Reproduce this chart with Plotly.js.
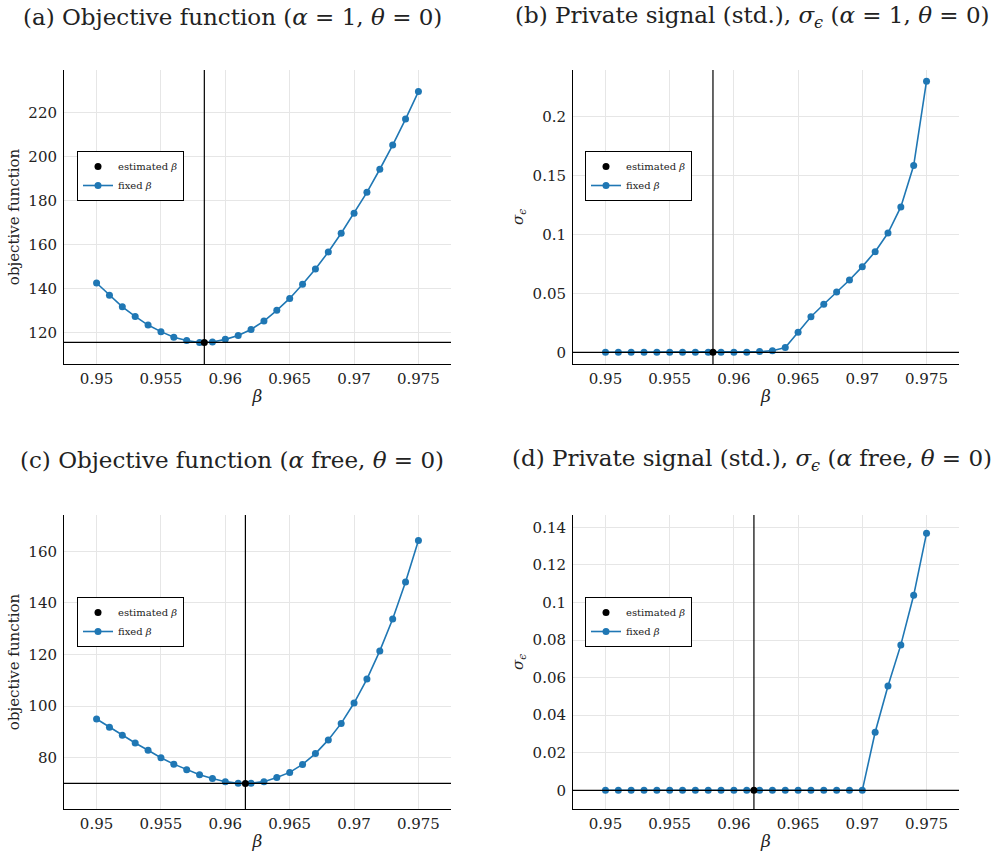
<!DOCTYPE html>
<html>
<head>
<meta charset="utf-8">
<script src="https://cdn.plot.ly/plotly-3.0.1.min.js"></script>
<style>html,body{margin:0;padding:0;background:#fff;}#chart{width:1001px;height:862px;}</style>
</head>
<body>
<div id="chart"></div>
<script>
// ---- data ----
const beta = [0.950,0.951,0.952,0.953,0.954,0.955,0.956,0.957,0.958,0.959,0.960,0.961,0.962,0.963,0.964,0.965,0.966,0.967,0.968,0.969,0.970,0.971,0.972,0.973,0.974,0.975];

const objA = [142.6,137.0,131.8,127.4,123.5,120.5,118.0,116.5,115.6,115.8,117.0,118.8,121.5,125.3,130.2,135.6,142.0,149.0,156.7,165.2,174.3,183.8,194.3,205.3,217.1,229.6];
const sigA = [0,0,0,0,0,0,0,0,0,0,0,0,0.0006,0.0014,0.004,0.017,0.0302,0.0407,0.0511,0.0613,0.0726,0.0853,0.1011,0.1232,0.1582,0.2297];
const estBetaA = 0.95837, estObjA = 115.6, estSigA = 0;

const objC = [95.0,91.8,88.7,85.7,82.9,80.0,77.5,75.3,73.4,71.9,70.7,70.1,70.1,70.7,72.3,74.3,77.4,81.6,86.9,93.3,101.2,110.5,121.4,133.8,148.1,164.2];
const sigC = [0,0,0,0,0,0,0,0,0,0,0,0,0,0,0,0,0,0,0,0,0,0.0309,0.0555,0.0774,0.1038,0.1368];
const estBetaC = 0.96156, estObjC = 70.0, estSigC = 0;

const titles = [
  "(a) Objective function (<i>α</i> = 1, <i>θ</i> = 0)",
  "(b) Private signal (std.), <i>σ<sub>ϵ</sub></i> (<i>α</i> = 1, <i>θ</i> = 0)",
  "(c) Objective function (<i>α</i> free, <i>θ</i> = 0)",
  "(d) Private signal (std.), <i>σ<sub>ϵ</sub></i> (<i>α</i> free, <i>θ</i> = 0)"
];
const yTitles = ["objective function", "<i>σ<sub>ϵ</sub></i>", "objective function", "<i>σ<sub>ϵ</sub></i>"];
const xTitle = "<i>β</i>";
const xTicks = [0.95,0.955,0.96,0.965,0.97,0.975];
const xTickText = ["0.95","0.955","0.96","0.965","0.97","0.975"];

// ---- styling ----
const FONT = "DejaVu Serif";
const BLUE = "#1f77b4";
const TXT = "#222";
const W = 1001, H = 862;

const panels = [
  {xs:"x", ys:"y", y: objA, eb: estBetaA, ev: estObjA, leg:"legend",
   xd:[64,451], yd:[70,364], yr:[105.8,239.4], ydt:[120,140,160,180,200,220], ytt:null},
  {xs:"x2", ys:"y2", y: sigA, eb: estBetaA, ev: estSigA, leg:"legend2",
   xd:[573,959], yd:[70,364], yr:[-0.0099,0.2392], ydt:[0,0.05,0.1,0.15,0.2], ytt:["0","0.05","0.1","0.15","0.2"]},
  {xs:"x3", ys:"y3", y: objC, eb: estBetaC, ev: estObjC, leg:"legend3",
   xd:[64,451], yd:[515,809], yr:[60.1,174.1], ydt:[80,100,120,140,160], ytt:null},
  {xs:"x4", ys:"y4", y: sigC, eb: estBetaC, ev: estSigC, leg:"legend4",
   xd:[573,959], yd:[515,809], yr:[-0.00995,0.14655], ydt:[0,0.02,0.04,0.06,0.08,0.1,0.12,0.14], ytt:["0","0.02","0.04","0.06","0.08","0.1","0.12","0.14"]}
];
const legendPos = [[77,151],[585,151],[77,597],[585,597]];
const titlePos = [[232,17],[752,17],[232,460],[752,460]];

const traces = [];
const layout = {
  width: W, height: H,
  margin: {l:0, r:0, t:0, b:0},
  paper_bgcolor: "#fff", plot_bgcolor: "#fff",
  font: {family: FONT, color: TXT, size: 15},
  showlegend: true,
  shapes: [], annotations: []
};

panels.forEach((p, i) => {
  const n = i === 0 ? "" : String(i+1);
  traces.push({
    x: beta, y: p.y, xaxis: p.xs, yaxis: p.ys, type: "scatter", mode: "lines+markers",
    name: "fixed <i>β</i>", legend: p.leg, legendrank: 2,
    line: {color: BLUE, width: 1.6}, marker: {color: BLUE, size: 7},
    hoverinfo: "skip"
  });
  traces.push({
    x: [p.eb], y: [p.ev], xaxis: p.xs, yaxis: p.ys, type: "scatter", mode: "markers",
    name: "estimated <i>β</i>", legend: p.leg, legendrank: 1,
    marker: {color: "#000", size: 7}, hoverinfo: "skip"
  });
  layout["xaxis"+n] = {
    domain: [p.xd[0]/W, p.xd[1]/W], anchor: "y"+n,
    range: [0.94747, 0.97753],
    tickvals: xTicks, ticktext: xTickText,
    showgrid: true, gridcolor: "#e6e6e6", gridwidth: 1,
    zeroline: false, showline: true, linecolor: "#000", linewidth: 1,
    ticks: "", ticklabelstandoff: 1, tickfont: {size: 15, family: FONT, color: TXT},
    title: {text: xTitle, font: {size: 17, family: FONT, color: TXT}, standoff: 3},
    automargin: false
  };
  const ya = {
    domain: [1 - p.yd[1]/H, 1 - p.yd[0]/H], anchor: "x"+n,
    range: p.yr, tickvals: p.ydt,
    showgrid: true, gridcolor: "#e6e6e6", gridwidth: 1,
    zeroline: false, showline: true, linecolor: "#000", linewidth: 1,
    ticks: "", ticklabelstandoff: 3, tickfont: {size: 15, family: FONT, color: TXT},
    title: {text: yTitles[i], font: {size: 15, family: FONT, color: TXT}, standoff: 5},
    automargin: false
  };
  if (p.ytt) ya.ticktext = p.ytt;
  layout["yaxis"+n] = ya;

  layout[p.leg] = {
    x: legendPos[i][0]/W, y: 1 - legendPos[i][1]/H, xanchor: "left", yanchor: "top",
    bgcolor: "#fff", bordercolor: "#000", borderwidth: 1,
    font: {size: 10, family: FONT, color: TXT},
    tracegroupgap: 0, itemwidth: 30
  };

  layout.shapes.push({type: "line", xref: p.xs, yref: p.ys + " domain", x0: p.eb, x1: p.eb, y0: 0, y1: 1,
    line: {color: "#000", width: 1.2}, layer: "above"});
  layout.shapes.push({type: "line", xref: p.xs + " domain", yref: p.ys, x0: 0, x1: 1, y0: p.ev, y1: p.ev,
    line: {color: "#000", width: 1.2}, layer: "above"});

  layout.annotations.push({
    text: titles[i], xref: "paper", yref: "paper",
    x: titlePos[i][0]/W, y: 1 - titlePos[i][1]/H, xanchor: "center", yanchor: "middle",
    showarrow: false, font: {size: 23, family: FONT, color: TXT}
  });
});

Plotly.newPlot("chart", traces, layout, {staticPlot: true, displayModeBar: false});
</script>
</body>
</html>
